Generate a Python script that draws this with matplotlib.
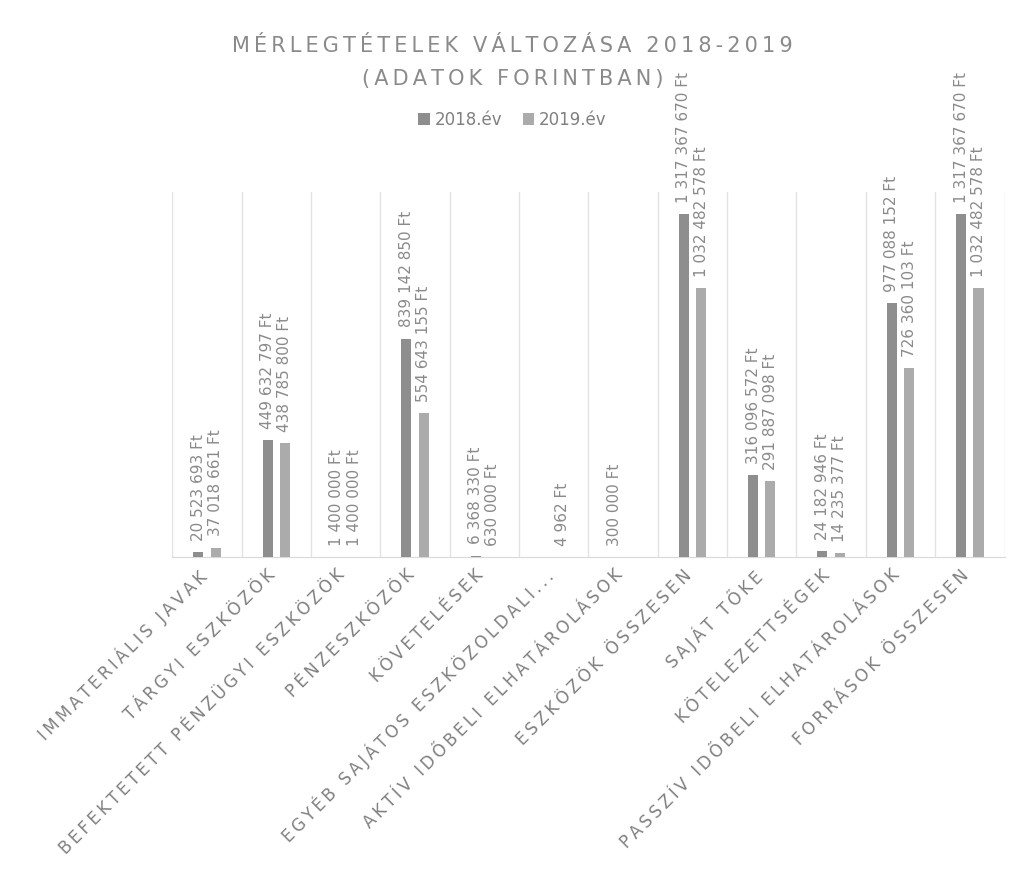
"""Mérlegtételek változása 2018-2019 – csoportosított oszlopdiagram (adatok forintban)."""

import matplotlib
matplotlib.use("Agg")
import matplotlib.pyplot as plt
import matplotlib.transforms as mtransforms
import numpy as np

CATEGORIES = [
    "IMMATERIÁLIS JAVAK",
    "TÁRGYI ESZKÖZÖK",
    "BEFEKTETETT PÉNZÜGYI ESZKÖZÖK",
    "PÉNZESZKÖZÖK",
    "KÖVETELÉSEK",
    "EGYÉB SAJÁTOS ESZKÖZOLDALI...",
    "AKTÍV IDŐBELI ELHATÁROLÁSOK",
    "ESZKÖZÖK ÖSSZESEN",
    "SAJÁT TŐKE",
    "KÖTELEZETTSÉGEK",
    "PASSZÍV IDŐBELI ELHATÁROLÁSOK",
    "FORRÁSOK ÖSSZESEN",
]
SERIES = ["2018.év", "2019.év"]
VALUES_2018 = [20523693, 449632797, 1400000, 839142850, 6368330, 0, 300000,
               1317367670, 316096572, 24182946, 977088152, 1317367670]
VALUES_2019 = [37018661, 438785800, 1400000, 554643155, 630000, 4962, 0,
               1032482578, 291887098, 14235377, 726360103, 1032482578]

COLORS = ["#8e8e8e", "#ababab"]
TEXT = "#8a8a8a"


def spaced(s, sep="\u2009"):
    # Excel-style letter spacing for titles / axis labels
    return sep.join(s)


def ft(v):
    return f"{v:,}".replace(",", " ") + " Ft"


fig = plt.figure(figsize=(10.25, 8.83), dpi=100)
ax = fig.add_axes([0.168, 0.369, 0.812, 0.413])

x = np.arange(len(CATEGORIES))
w, off = 0.145, 0.125
for vals, c, d, lab in zip([VALUES_2018, VALUES_2019], COLORS, [-off, off], SERIES):
    bars = ax.bar(x + d, vals, width=w, color=c, label=lab, zorder=3)
    for b, v in zip(bars, vals):
        if v == 0:
            continue
        ax.annotate(ft(v), (b.get_x() + b.get_width() / 2, v), xytext=(0, 8),
                    textcoords="offset points", rotation=90, ha="center", va="bottom",
                    fontsize=11, color=TEXT)

ax.set_xlim(-0.5, len(CATEGORIES) - 0.5)
ax.set_ylim(0, 1.4e9)
ax.set_yticks([])
ax.set_xticks(x)
ax.set_xticklabels([spaced(c) for c in CATEGORIES], rotation=45, ha="right",
                   rotation_mode="anchor", fontsize=12, color="#808080")
ax.tick_params(axis="x", length=0, pad=5)
# nudge the slanted labels left so their top-right corner sits under the category centre
shift = mtransforms.ScaledTranslation(-10 / 100, -2 / 100, fig.dpi_scale_trans)
for t in ax.get_xticklabels():
    t.set_transform(t.get_transform() + shift)
ax.set_xticks(np.arange(len(CATEGORIES) + 1) - 0.5, minor=True)
ax.tick_params(axis="x", which="minor", length=0)
ax.grid(axis="x", which="minor", color="#e3e3e3", lw=1, zorder=0)
for s in ["top", "left", "right"]:
    ax.spines[s].set_visible(False)
ax.spines["bottom"].set_color("#d9d9d9")

fig.text(0.5, 0.948, spaced("MÉRLEGTÉTELEK VÁLTOZÁSA 2018-2019"), ha="center", va="center",
         fontsize=15, color=TEXT)
fig.text(0.5, 0.911, spaced("(ADATOK FORINTBAN)"), ha="center", va="center",
         fontsize=15, color=TEXT)
fig.legend(loc="center", bbox_to_anchor=(0.5, 0.864), ncol=2, frameon=False,
           fontsize=12, labelcolor="#808080", handlelength=0.7, handleheight=0.7,
           handletextpad=0.3, columnspacing=1.2)

fig.savefig("out.png", dpi=100, facecolor="white")
